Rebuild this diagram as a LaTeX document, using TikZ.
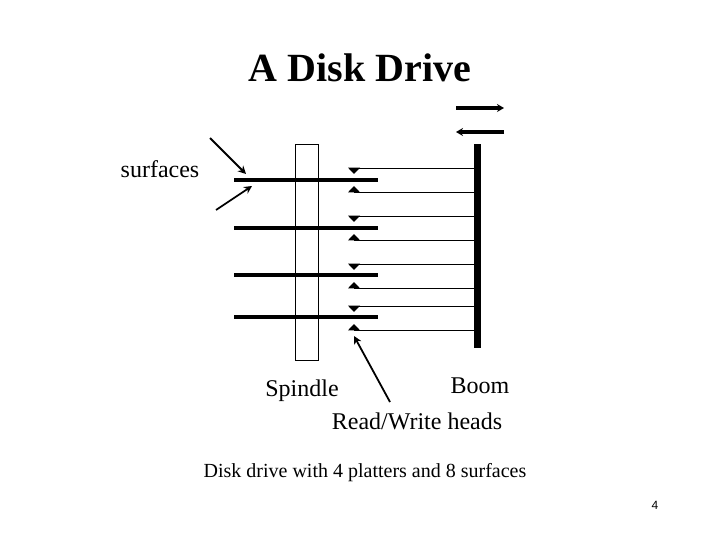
\documentclass[tikz,border=0pt]{standalone}
\usepackage{fontspec}
\setmainfont{Liberation Serif}
\newfontfamily\pagefont{Liberation Sans}
\usepackage{xcolor}
\usetikzlibrary{arrows.meta,positioning}

\begin{document}
\begin{tikzpicture}[
  x=1pt,y=-1pt,
  lab/.style={font=\fontsize{24}{28}\selectfont,inner sep=0pt},
  platter/.style={line width=3.7pt},
  wire/.style={line width=0.7pt},
  pointer/.style={line width=1.8pt,-{Stealth[length=8pt,width=8pt]}},
  boomarrow/.style={line width=3.6pt,-{Stealth[length=7pt,width=8pt]}}]
\useasboundingbox (0,0) rectangle (720,540);
\node[font=\bfseries\fontsize{40}{44}\selectfont,inner sep=0pt] (title) at (360,68) {A Disk Drive};
\node[lab] (surf) at (160,169) {surfaces};
\node[lab] (spindlelab) at (302,391) {Spindle};
\node[lab] (boomlab) at (480,386) {Boom};
\node[lab] (rwlab) at (417,421) {Read/Write heads};
\node[font=\fontsize{20}{24}\selectfont,inner sep=0pt] (caption) at (365,473) {Disk drive with 4 platters and 8 surfaces};
\node[font=\pagefont\fontsize{12}{14}\selectfont,inner sep=0pt] (pagenum) at (655,505) {4};
% spindle and boom
\node[draw,line width=0.7pt,minimum width=23pt,minimum height=216pt,inner sep=0pt] (spindle) at (306.5,252) {};
\node[fill=black,minimum width=7pt,minimum height=204pt,inner sep=0pt] (boom) at (477.5,246) {};
% platters
\foreach \y/\name in {180/a,228/b,275/c,317/d} {
  \coordinate (pl\name) at (234,\y);
  \coordinate (pr\name) at (378,\y);
  \draw[platter] (pl\name) -- (pr\name);
}
% heads above
\foreach \y in {168,216,264,306} {
  \coordinate (hd\y) at (354,\y);
  \draw[wire] (hd\y) -- (hd\y -| boom.west);
  \fill (hd\y) ++(-6,-0.3) -- ++(12,0) -- ++(-6,6.3) -- cycle;
}
% heads below
\foreach \y in {192,240,288,330} {
  \coordinate (hd\y) at (354,\y);
  \draw[wire] (hd\y) -- (hd\y -| boom.west);
  \fill (hd\y) ++(-6,0.3) -- ++(12,0) -- ++(-6,-6.3) -- cycle;
}
% arrows
\coordinate (ra) at (456,108);
\coordinate (rb) at (504,108);
\coordinate (la) at (504,132);
\coordinate (lb) at (456,132);
\draw[boomarrow] (ra) -- (rb);
\draw[boomarrow] (la) -- (lb);
\coordinate (sa) at (210,138);
\coordinate (sb) at (246,174);
\coordinate (sc) at (216,210);
\coordinate (sd) at (252,186);
\draw[pointer] (sa) -- (sb);
\draw[pointer] (sc) -- (sd);
\coordinate (rwtail) at (390,402);
\coordinate (rwtip) at (354,336);
\draw[pointer] (rwtail) -- (rwtip);
\end{tikzpicture}
\end{document}
